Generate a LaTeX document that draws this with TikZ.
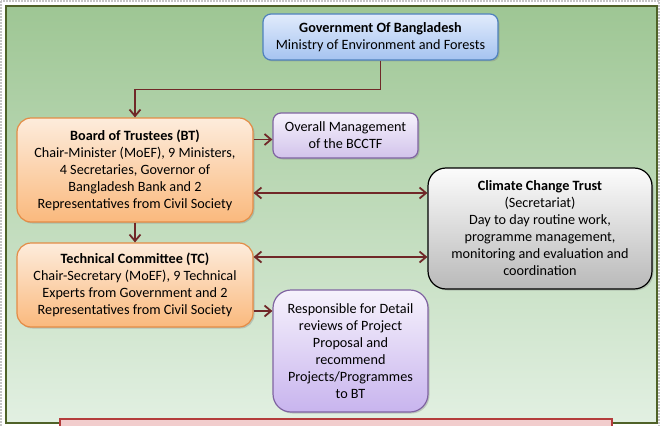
\documentclass[tikz,border=0pt]{standalone}
\usepackage{fontspec}
\setmainfont{Carlito}
\usepackage{tikz}
\usetikzlibrary{arrows.meta, positioning, shadows}

\definecolor{arrowred}{RGB}{112,40,40}
\definecolor{olive}{RGB}{79,98,40}
\definecolor{bluebd}{RGB}{79,129,189}
\definecolor{orangebd}{RGB}{228,140,70}
\definecolor{purplebd}{RGB}{128,100,162}
\definecolor{pinkfill}{RGB}{242,205,205}
\definecolor{redbd}{RGB}{180,60,60}

\tikzset{
    box/.style={draw, line width=1.2pt, align=center, inner sep=2pt,
        font=\fontsize{14.2}{17}\selectfont,
        drop shadow={shadow xshift=1.5pt, shadow yshift=-1.5pt, opacity=0.35}},
    govbox/.style={box, draw=bluebd, rounded corners=8pt,
        top color={rgb,255:red,225;green,235;blue,252}, bottom color={rgb,255:red,165;green,195;blue,240}},
    boardbox/.style={box, draw=orangebd, rounded corners=14pt,
        top color={rgb,255:red,253;green,236;blue,220}, bottom color={rgb,255:red,250;green,185;blue,125}},
    notebox/.style={box, draw=purplebd, rounded corners=8pt,
        top color={rgb,255:red,246;green,242;blue,252}, bottom color={rgb,255:red,210;green,195;blue,235}},
    trustbox/.style={box, draw=black, rounded corners=18pt,
        top color={rgb,255:red,252;green,252;blue,252}, bottom color={rgb,255:red,185;green,185;blue,185}},
    arr/.style={draw=arrowred, line width=1.8pt, -{Straight Barb[length=6.5pt,width=11pt]}},
    darr/.style={arr, {Straight Barb[length=6.5pt,width=11pt]}-{Straight Barb[length=6.5pt,width=11pt]}}
}

\begin{document}
\begin{tikzpicture}[x=1pt, y=-1pt]
    \useasboundingbox (0,0) rectangle (660,425);

    % Background frame
    \draw[gray!45, line width=2pt, dash pattern=on 2pt off 1pt] (1,1) rectangle (659,440);
    \draw[olive, line width=1.6pt, top color={rgb,255:red,158;green,198;blue,148},
        bottom color={rgb,255:red,226;green,240;blue,226}] (6,6) rectangle (657,423);

    % Boxes
    \node[govbox, minimum width=235pt, minimum height=46pt] (gov) at (380.5,37)
        {\textbf{Government Of Bangladesh}\\Ministry of Environment and Forests};
    \node[boardbox, minimum width=236pt, minimum height=104pt] (bt) at (135,170)
        {\textbf{Board of Trustees (BT)}\\Chair-Minister (MoEF), 9 Ministers,\\4 Secretaries, Governor of\\Bangladesh Bank and 2\\Representatives from Civil Society};
    \node[notebox, minimum width=145pt, minimum height=45pt] (om) at (345.5,135.5)
        {Overall Management\\of the BCCTF};
    \node[trustbox, minimum width=224pt, minimum height=121pt] (cct) at (540,228.5)
        {\textbf{Climate Change Trust}\\(Secretariat)\\Day to day routine work,\\programme management,\\monitoring and evaluation and\\coordination};
    \node[boardbox, minimum width=236pt, minimum height=84pt] (tc) at (135,285)
        {\textbf{Technical Committee (TC)}\\Chair-Secretary (MoEF), 9 Technical\\Experts from Government and 2\\Representatives from Civil Society};
    \node[notebox, rounded corners=18pt, minimum width=155pt, minimum height=122pt,
        bottom color={rgb,255:red,200;green,180;blue,238}] (resp) at (350.5,351)
        {Responsible for Detail\\reviews of Project\\Proposal and\\recommend\\Projects/Programmes\\to BT};

    % Connectors
    \draw[arr] (gov.south) -- ++(0,29) -| (bt.north);
    \draw[arr] ([yshift=-4pt]bt.east |- om.west) coordinate (b0) -- (b0 -| om.west);
    \draw[darr] ([yshift=-23pt]bt.east) coordinate (b1) -- (b1 -| cct.west);
    \draw[arr] (bt.south) -- (tc.north);
    \draw[darr] ([yshift=28pt]tc.east) coordinate (t1) -- (t1 -| cct.west);
    \draw[arr] ([yshift=-26pt]tc.east) coordinate (t2) -- (t2 -| resp.west);

    % Bottom box (cut off)
    \draw[redbd, line width=1.6pt, fill=pinkfill] (60,419) rectangle (612,445);
\end{tikzpicture}
\end{document}
